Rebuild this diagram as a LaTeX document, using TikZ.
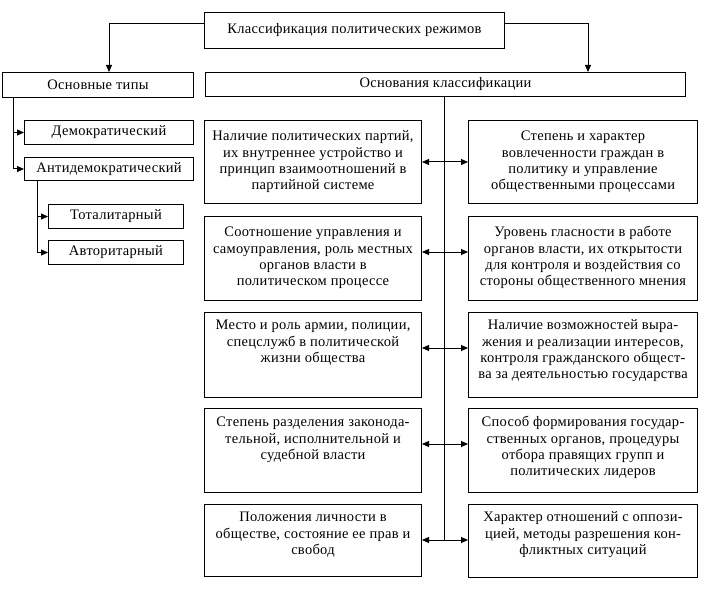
\documentclass[tikz,border=0pt]{standalone}
\usepackage{fontspec}
\setmainfont{Liberation Serif}[LetterSpace=2]
\usetikzlibrary{arrows.meta}
\newcommand\fsz{\fontsize{14.5bp}{16.3bp}\selectfont}
\newcommand\tb[4]{\parbox[t][#1bp][t]{#2bp}{\centering\vspace*{#3bp}\strut\ignorespaces #4}}
\tikzset{
  box/.style={draw, anchor=north west, inner sep=0pt, font=\fsz, line width=1bp},
  arr/.style={line width=1bp, -{Triangle[length=7bp,width=6bp]}},
  darr/.style={line width=1bp, {Triangle[length=7bp,width=6bp]}-{Triangle[length=7bp,width=6bp]}},
  ln/.style={line width=1bp}
}
\begin{document}
\begin{tikzpicture}[x=1bp,y=-1bp]
\fill[white] (0,0) rectangle (709,589);
\useasboundingbox (0,0) rectangle (709,589);
% top level
\node[box, minimum width=300bp, minimum height=36bp] (top) at (204,12) {Классификация политических режимов};
\node[box, minimum width=191bp, minimum height=25bp] (types) at (2,72) {Основные типы};
\node[box, minimum width=480bp, minimum height=24bp] (osn) at (205,72) {Основания классификации};
% types
\node[box, minimum width=169bp, minimum height=24bp] (demo) at (24,120) {Демократический};
\node[box, minimum width=169bp, minimum height=23bp] (anti) at (24,157) {Антидемократический};
\node[box, minimum width=135bp, minimum height=24bp] (tot) at (48,204) {Тоталитарный};
\node[box, minimum width=135bp, minimum height=24bp] (avt) at (48,240) {Авторитарный};
% left column
\node[box] (L1) at (204,120) {\tb{83}{217}{9}{Наличие политических партий,\\их внутреннее устройство и\\принцип взаимоотношений в\\партийной системе}};
\node[box] (L2) at (204,216) {\tb{84}{217}{9}{Соотношение управления и\\самоуправления, роль местных\\органов власти в\\политическом процессе}};
\node[box] (L3) at (204,312) {\tb{85}{217}{6}{Место и роль армии, полиции,\\спецслужб в политической\\жизни общества}};
\node[box] (L4) at (204,408) {\tb{84}{217}{7}{Степень разделения законода-\\тельной, исполнительной и\\судебной власти}};
\node[box] (L5) at (204,504) {\tb{72}{217}{6}{Положения личности в\\обществе, состояние ее прав и\\свобод}};
% right column
\node[box] (R1) at (468,120) {\tb{83}{229}{9}{Степень и характер\\вовлеченности граждан в\\политику и управление\\общественными процессами}};
\node[box] (R2) at (468,216) {\tb{84}{229}{9}{Уровень гласности в работе\\органов власти, их открытости\\для контроля и воздействия со\\стороны общественного мнения}};
\node[box] (R3) at (468,312) {\tb{85}{229}{6}{Наличие возможностей выра-\\жения и реализации интересов,\\контроля гражданского общест-\\ва за деятельностью государства}};
\node[box] (R4) at (468,408) {\tb{84}{229}{7}{Способ формирования государ-\\ственных органов, процедуры\\отбора правящих групп и\\политических лидеров}};
\node[box] (R5) at (468,504) {\tb{73}{229}{6}{Характер отношений с оппози-\\цией, методы разрешения кон-\\фликтных ситуаций}};
% connectors
\draw[arr] (top.north west) ++(0,12) -| (109,0 |- types.north);
\draw[arr] (top.north east) ++(0,12) -| (588,0 |- osn.north);
\draw[arr] (types.south west) ++(11,0) |- (demo.west);
\draw[arr] (types.south west) ++(11,0) |- (anti.west);
\draw[arr] (anti.south west) ++(13,0) |- (tot.west);
\draw[arr] (anti.south west) ++(13,0) |- (avt.west);
\coordinate (c1) at (444,162);
\coordinate (c2) at (444,252);
\coordinate (c3) at (444,348);
\coordinate (c4) at (444,444);
\coordinate (c5) at (444,540);
\draw[ln] (444,0 |- osn.south) -- (c5);
\draw[darr] (L1.east |- c1) -- (R1.west |- c1);
\draw[darr] (L2.east |- c2) -- (R2.west |- c2);
\draw[darr] (L3.east |- c3) -- (R3.west |- c3);
\draw[darr] (L4.east |- c4) -- (R4.west |- c4);
\draw[darr] (L5.east |- c5) -- (R5.west |- c5);
\end{tikzpicture}
\end{document}
